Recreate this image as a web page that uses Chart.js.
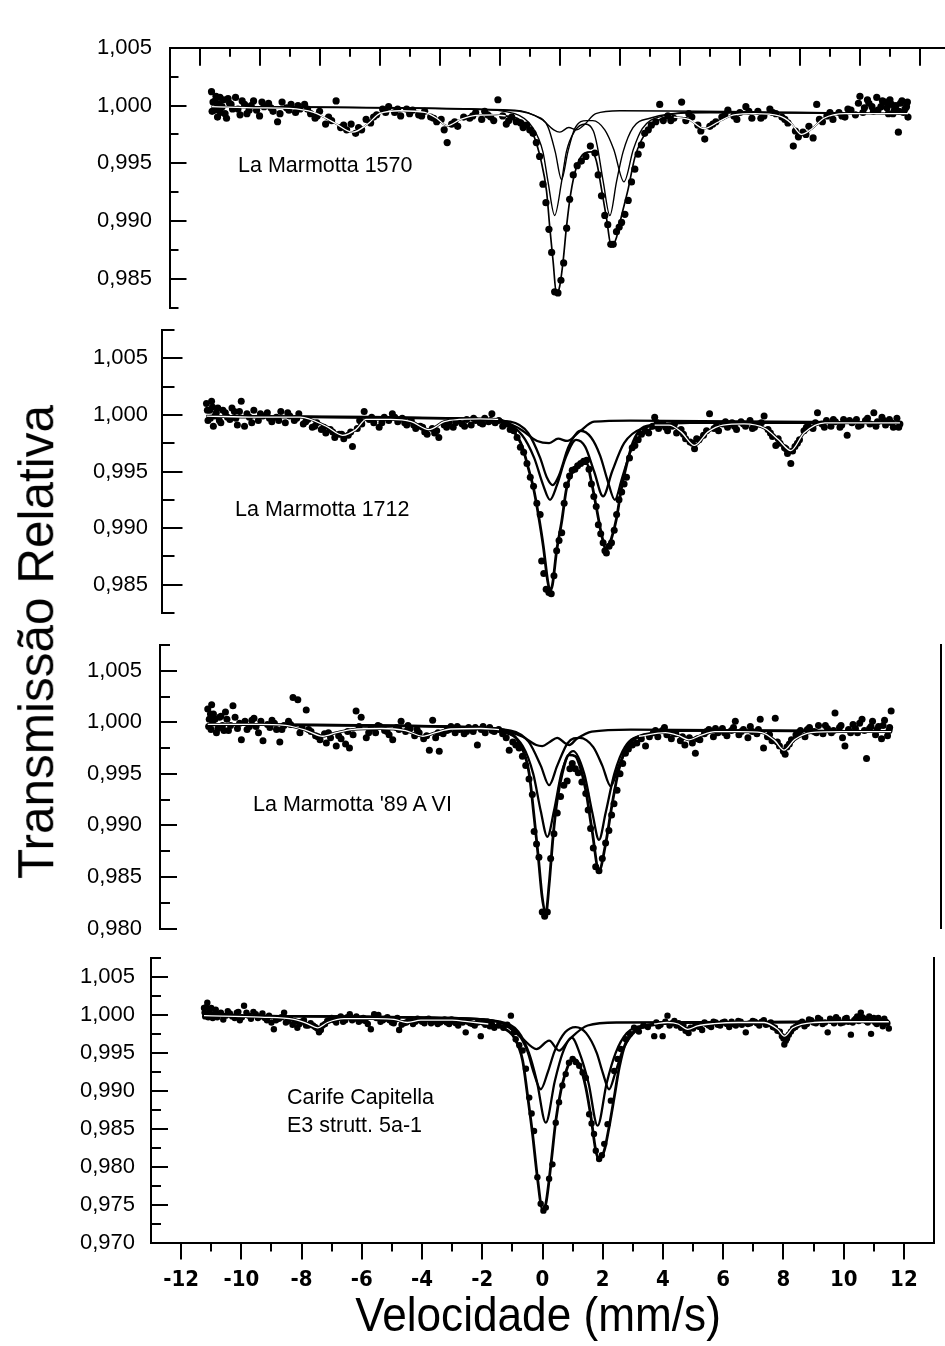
<!DOCTYPE html>
<html><head><meta charset="utf-8">
<script src="https://cdn.jsdelivr.net/npm/chart.js@4.4.1/dist/chart.umd.min.js"></script>
<style>
html,body{margin:0;padding:0;background:#fff;overflow:hidden;width:945px;height:1346px;position:relative;}
canvas{position:absolute;left:0;top:0;}
.lbl{position:absolute;font-family:"Liberation Sans",Arial,sans-serif;font-size:21.5px;line-height:21.5px;color:#000;white-space:nowrap;}
#ytitle{position:absolute;left:35.5px;top:642px;font-family:"Liberation Sans",Arial,sans-serif;font-size:49.5px;line-height:49.5px;white-space:nowrap;transform:translate(-50%,-50%) rotate(-90deg);}
#xtitle{position:absolute;left:538px;top:1315px;font-family:"Liberation Sans",Arial,sans-serif;font-size:48px;line-height:48px;white-space:nowrap;transform:translate(-50%,-50%) scaleX(0.92);}
</style></head><body>
<canvas id="c4" width="945" height="1346"></canvas>
<canvas id="c3" width="945" height="1346"></canvas>
<canvas id="c2" width="945" height="1346"></canvas>
<canvas id="c1" width="960" height="1346"></canvas>
<div class="lbl" style="left:238px;top:155px">La Marmotta 1570</div>
<div class="lbl" style="left:235px;top:498.5px">La Marmotta 1712</div>
<div class="lbl" style="left:253px;top:793.5px">La Marmotta '89 A VI</div>
<div class="lbl" style="left:287px;top:1087px">Carife Capitella</div>
<div class="lbl" style="left:287px;top:1115px">E3 strutt. 5a-1</div>
<div id="ytitle">Transmissão Relativa</div>
<div id="xtitle">Velocidade (mm/s)</div>
<script>
// ---------- tick values ----------
const xTicksMajor = [-12,-10,-8,-6,-4,-2,0,2,4,6,8,10,12];
const xTicksMinor = [-12,-11,-10,-9,-8,-7,-6,-5,-4,-3,-2,-1,0,1,2,3,4,5,6,7,8,9,10,11,12];
const p1YTicks = [0.985,0.990,0.995,1.000,1.005];
const p1YMinor = [0.9825,0.9875,0.9925,0.9975,1.0025];
const p2YTicks = [0.985,0.990,0.995,1.000,1.005];
const p2YMinor = [0.9825,0.9875,0.9925,0.9975,1.0025,1.0075];
const p3YTicks = [0.980,0.985,0.990,0.995,1.000,1.005];
const p3YMinor = [0.9825,0.9875,0.9925,0.9975,1.0025,1.0075];
const p4YTicks = [0.970,0.975,0.980,0.985,0.990,0.995,1.000,1.005];
const p4YMinor = [0.9725,0.9775,0.9825,0.9875,0.9925,0.9975,1.0025,1.0075];

// ---------- Panel 1 : La Marmotta 1570 ----------
const p1Points = [[-11.6,1.0012],[-11.55,1.0003],[-11.5,0.9996],[-11.45,1.0008],[-11.4,0.9990],[-11.35,1.0001],[-11.3,0.9994],[-11.2,1.0005],[-11.1,0.9989],[-11.0,1.0002],[-10.9,0.9997],[-10.8,1.0007],[-10.65,0.9992],[-10.5,1.0001],[-10.35,0.9996],[-10.2,1.0004],[-10.0,0.9991],[-9.85,0.9999],[-9.7,1.0002],[-9.55,0.9995],[-9.4,0.9986],[-9.25,1.0003],[-9.1,0.9998],[-8.95,1.0001],[-8.8,0.9994],[-8.65,0.9997],[-8.5,1.0001],[-8.3,0.9993],[-8.15,0.9989],[-8.0,0.9995],[-7.8,0.9984],[-7.6,0.9987],[-7.45,1.0004],[-7.3,0.9981],[-7.1,0.9979],[-6.95,0.9984],[-6.8,0.9976],[-6.6,0.9979],[-6.45,0.9988],[-6.3,0.9985],[-6.1,0.9992],[-5.9,0.9997],[-5.7,0.9999],[-5.5,0.9994],[-5.3,0.9991],[-5.1,0.9997],[-4.9,0.9996],[-4.7,0.9992],[-4.5,0.9995],[-4.3,0.9990],[-4.1,0.9986],[-3.95,0.9988],[-3.75,0.9968],[-3.6,0.9984],[-3.4,0.9982],[-3.2,0.9990],[-3.0,0.9989],[-2.8,0.9994],[-2.6,0.9988],[-2.4,0.9992],[-2.2,0.9987],[-2.06,1.0005],[-1.9,0.9991],[-1.78,0.9984],[-1.6,0.9990],[-1.45,0.9986],
[-1.3,0.9985],[-1.22,0.9981],[-1.1,0.9983],[-1.0,0.9979],[-0.89,0.9976],[-0.78,0.9968],[-0.67,0.9956],[-0.56,0.9932],[-0.46,0.9916],[-0.36,0.9893],[-0.27,0.9873],[-0.17,0.9839],[-0.06,0.9838],[0.04,0.9849],[0.13,0.9864],[0.23,0.9894],[0.33,0.9919],[0.45,0.9940],[0.58,0.9948],[0.72,0.9952],[0.87,0.9956],[1.02,0.9965],[1.17,0.9959],[1.28,0.9940],[1.39,0.9922],[1.5,0.9905],[1.6,0.9897],[1.7,0.9880],[1.78,0.9880],[1.89,0.9891],[1.98,0.9895],[2.06,0.9899],[2.17,0.9906],[2.28,0.9918],[2.39,0.9934],[2.5,0.9945],[2.61,0.9958],[2.72,0.9966],[2.83,0.9976],[2.95,0.9979],[3.05,0.9983],[3.2,0.9986],[3.33,1.0001],[3.45,0.9987],
[3.6,0.9991],[3.8,0.9989],[4.06,1.0003],[4.2,0.9987],[4.4,0.9990],[4.6,0.9983],[4.83,0.9971],[5.0,0.9982],[5.2,0.9986],[5.4,0.9990],[5.6,0.9996],[5.8,0.9991],[6.0,0.9994],[6.2,0.9999],[6.4,0.9989],[6.6,0.9995],[6.8,0.9991],[7.0,0.9997],[7.2,0.9993],[7.4,0.9990],[7.6,0.9985],[7.78,0.9965],[7.95,0.9973],[8.1,0.9977],[8.3,0.9982],[8.44,0.9972],[8.56,1.0001],[8.75,0.9986],[8.9,0.9991],[9.1,0.9988],[9.3,0.9994],[9.5,0.9990],[9.7,0.9996],[9.85,0.9992],[10.0,1.0008],[10.15,0.9998],[10.3,1.0002],[10.45,0.9995],[10.56,1.0007],[10.7,0.9999],[10.85,1.0003],[10.95,0.9993],[11.05,1.0001],[11.15,0.9996],[11.28,0.9977],[11.35,1.0002],[11.45,0.9994],[11.55,0.9999],[11.6,0.9990]];
const p1PointsB = [[-11.58,0.9995],[-11.48,1.0004],[-11.42,0.9998],[-11.32,1.0007],[-11.25,0.9999],[-11.15,0.9993],[-11.05,1.0006],[-10.95,1.0001],[-10.72,0.9997],[-10.58,1.0004],[-10.42,0.9993],[-10.28,1.0000],[-10.1,0.9996],[-9.92,1.0003],[-9.62,0.9998],[-9.32,0.9993],[-9.02,0.9996],[-8.72,1.0000],[-8.4,0.9997],[-8.08,0.9991],[-7.7,0.9990],[-7.2,0.9983],[-6.7,0.9981],[-6.2,0.9990],[-5.8,0.9994],[-5.4,0.9997],[-5.0,0.9993],[-4.6,0.9991],[-4.2,0.9989],[-3.85,0.9979],[-3.5,0.9986],[-2.9,0.9991],[-2.5,0.9995],[-2.3,0.9990],[-1.7,0.9987],
[3.7,0.9987],[4.3,0.9993],[4.7,0.9978],[5.1,0.9984],[5.5,0.9992],[5.9,0.9988],[6.3,0.9995],[6.7,0.9989],[7.1,0.9994],[7.5,0.9988],[7.85,0.9978],[8.2,0.9975],[8.65,0.9988],[9.0,0.9994],[9.4,0.9991],[9.6,0.9997],[9.95,1.0002],[10.1,0.9994],[10.25,1.0005],[10.4,0.9999],[10.6,0.9996],[10.75,1.0004],[10.9,0.9998],[11.0,1.0005],[11.1,0.9993],[11.2,1.0000],[11.3,0.9995],[11.4,1.0004],[11.5,0.9997],[11.58,1.0003]];
const p1Fit = [[-11.6,0.9999],[-10,0.9998],[-9,0.99975],[-8.2,0.9994],[-7.5,0.9985],[-6.9,0.9977],[-6.4,0.9984],[-6.0,0.9993],[-5.3,0.99955],[-4.5,0.9994],[-4.1,0.9989],[-3.75,0.99825],[-3.3,0.9988],[-2.8,0.99915],[-2.2,0.9992],[-1.8,0.9991],[-1.35,0.9988],[-0.9,0.9976],[-0.62,0.9952],[-0.44,0.9926],[-0.33,0.9894],[-0.22,0.9865],[-0.11,0.9837],[0.0,0.9844],[0.11,0.9865],[0.22,0.9894],[0.36,0.9923],[0.56,0.9947],[0.83,0.9959],[1.06,0.9960],[1.22,0.9952],[1.39,0.9928],[1.56,0.9902],[1.72,0.9878],[1.89,0.9886],[2.06,0.9905],[2.28,0.9928],[2.5,0.9955],[2.72,0.9970],[3.0,0.9981],[3.33,0.9988],[3.8,0.9990],[4.3,0.9988],[4.8,0.9980],[5.3,0.9986],[5.8,0.9992],[6.5,0.9993],[7.3,0.9991],[7.7,0.9985],[8.05,0.9975],[8.4,0.9980],[8.8,0.9989],[9.5,0.9993],[10.5,0.9993],[11.6,0.9993]];
const p1C1 = [[-11.6,0.9999],[-3,0.9997],[-1.5,0.9993],[-0.9,0.9981],[-0.56,0.9960],[-0.39,0.9934],[-0.17,0.9905],[0.06,0.9934],[0.22,0.9960],[0.5,0.9978],[0.85,0.9984],[1.12,0.9978],[1.25,0.9965],[1.45,0.9934],[1.67,0.9905],[1.89,0.9934],[2.11,0.9960],[2.44,0.9981],[3.0,0.9989],[4.5,0.9994],[11.6,0.9993]];
const p1C2 = [[-11.6,0.9999],[-2,0.9996],[-0.8,0.9991],[-0.4,0.9982],[-0.15,0.9960],[0.06,0.9936],[0.27,0.9960],[0.5,0.9980],[0.9,0.9987],[1.1,0.9987],[1.5,0.9979],[1.8,0.9962],[2.14,0.9934],[2.45,0.9962],[2.75,0.9980],[3.3,0.9990],[5,0.9994],[11.6,0.9993]];
const p1C3 = [[-11.6,0.9999],[-1.5,0.9996],[-0.6,0.9988],[-0.2,0.9979],[0.0,0.9977],[0.3,0.9981],[0.55,0.9979],[0.8,0.9983],[1.2,0.9993],[2,0.99955],[11.6,0.9993]];

// ---------- Panel 2 : La Marmotta 1712 ----------
const p2Points = [[-11.13,1.0010],[-11.08,0.9995],[-11.02,1.0004],[-10.96,1.0012],[-10.9,0.9990],[-10.85,0.9999],[-10.75,1.0006],[-10.65,0.9993],[-10.5,1.0002],[-10.35,0.9996],[-10.2,1.0003],[-10.1,0.9991],[-9.97,1.0012],[-9.86,0.9990],[-9.7,0.9998],[-9.55,1.0004],[-9.4,0.9995],[-9.25,0.9999],[-9.1,1.0002],[-8.95,0.9994],[-8.8,0.9998],[-8.65,1.0003],[-8.5,0.9993],[-8.35,0.9999],[-8.2,0.9995],[-8.05,1.0001],[-7.9,0.9992],[-7.75,0.9996],[-7.6,0.9989],[-7.45,0.9993],[-7.3,0.9987],[-7.15,0.9984],[-7.0,0.9987],[-6.85,0.9980],[-6.7,0.9983],[-6.55,0.9979],[-6.4,0.9982],[-6.26,0.9972],[-6.1,0.9988],[-5.95,0.9992],[-5.87,1.0003],[-5.7,0.9996],[-5.55,0.9993],[-5.37,0.9989],[-5.2,0.9998],[-5.05,0.9995],[-4.93,1.0001],[-4.75,0.9994],[-4.6,0.9997],[-4.45,0.9991],[-4.3,0.9995],[-4.15,0.9988],[-4.0,0.9990],[-3.85,0.9985],[-3.77,0.9983],[-3.6,0.9988],[-3.45,0.9986],[-3.38,0.9980],[-3.2,0.9991],[-3.05,0.9993],[-2.9,0.9989],[-2.75,0.9995],[-2.6,0.9992],[-2.45,0.9996],[-2.3,0.9991],[-2.15,0.9995],[-2.0,0.9993],[-1.85,0.9997],[-1.72,0.9994],[-1.61,1.0001],[-1.5,0.9993],
[-1.38,0.9995],[-1.25,0.9990],[-1.12,0.9992],[-1.0,0.9987],[-0.88,0.9986],[-0.77,0.9980],[-0.66,0.99715],[-0.55,0.9967],[-0.44,0.9957],[-0.33,0.9945],[-0.22,0.9937],[-0.11,0.9922],[0.0,0.9912],[0.05,0.9871],[0.12,0.9860],[0.2,0.9846],[0.29,0.9843],[0.37,0.9842],[0.46,0.9858],[0.55,0.9880],[0.63,0.9889],[0.72,0.9896],[0.8,0.9922],[0.88,0.9938],[0.98,0.9946],[1.07,0.9951],[1.16,0.9952],[1.25,0.9955],[1.35,0.9957],[1.45,0.9959],[1.55,0.9960],[1.63,0.9952],[1.71,0.9939],[1.79,0.9928],[1.87,0.9919],[1.94,0.9903],[2.02,0.9895],[2.1,0.9887],[2.16,0.9880],[2.21,0.9878],[2.3,0.9884],[2.38,0.9887],[2.47,0.9898],[2.55,0.9912],[2.63,0.9925],[2.72,0.9932],[2.8,0.9939],[2.88,0.9945],[2.98,0.9962],[3.07,0.9971],[3.16,0.9973],[3.27,0.9978],[3.38,0.9983],[3.5,0.9986],[3.62,0.9984],[3.75,0.9990],[3.82,0.9998],
[3.95,0.9988],[4.1,0.9992],[4.25,0.9986],[4.4,0.9990],[4.55,0.9984],[4.7,0.9987],[4.85,0.9979],[5.0,0.9976],[5.15,0.9970],[5.3,0.9978],[5.45,0.9982],[5.65,1.0001],[5.8,0.9988],[5.95,0.9986],[6.1,0.9992],[6.25,0.9989],[6.4,0.9993],[6.55,0.9987],[6.7,0.9994],[6.85,0.9990],[7.0,0.9995],[7.15,0.9989],[7.3,0.9992],[7.47,0.9999],[7.6,0.9987],[7.75,0.9981],[7.86,0.9973],[8.0,0.9975],[8.15,0.9971],[8.25,0.9966],[8.36,0.9957],[8.5,0.9972],[8.65,0.9978],[8.8,0.9986],[8.95,0.9990],[9.1,0.9988],[9.25,1.0002],[9.4,0.9992],[9.55,0.9995],[9.7,0.9990],[9.85,0.9994],[10.0,0.9989],[10.12,0.9996],[10.24,0.9982],[10.4,0.9993],[10.55,0.9996],[10.7,0.9991],[10.85,0.9995],[11.0,0.9992],[11.13,1.0002],[11.25,0.9994],[11.4,0.9998],[11.52,0.9991],[11.65,0.9996],[11.78,0.9989],[11.9,0.9997],[12.0,0.9992]];
const p2PointsB = [[-11.1,1.0004],[-11.0,0.9997],[-10.93,1.0007],[-10.8,1.0002],[-10.7,0.9995],[-10.58,1.0004],[-10.43,0.9998],[-10.28,1.0006],[-10.15,0.9997],[-10.03,1.0003],[-9.78,1.0001],[-9.62,0.9993],[-9.33,1.0001],[-9.03,0.9997],[-8.72,0.9995],[-8.42,1.0002],[-8.12,0.9997],[-7.82,0.9994],[-7.52,0.9990],[-7.22,0.9989],[-6.92,0.9985],[-6.62,0.9983],[-6.32,0.9985],[-6.02,0.9995],[-5.62,0.9998],[-5.28,0.9993],[-4.85,0.9998],[-4.52,0.9993],[-4.22,0.9991],[-3.92,0.9989],[-3.52,0.9984],[-3.12,0.9989],[-2.82,0.9993],[-2.52,0.9990],[-2.22,0.9997],[-1.92,0.9992],[-1.65,0.9995],
[3.9,0.9993],[4.18,0.9989],[4.48,0.9992],[4.78,0.9983],[5.08,0.9975],[5.22,0.9979],[5.55,0.9986],[5.88,0.9990],[6.18,0.9994],[6.48,0.9990],[6.78,0.9992],[7.08,0.9988],[7.38,0.9993],[7.68,0.9984],[7.94,0.9979],[8.2,0.9970],[8.42,0.9968],[8.58,0.9975],[8.88,0.9989],[9.18,0.9993],[9.48,0.9989],[9.78,0.9996],[10.06,0.9991],[10.32,0.9995],[10.62,0.9990],[10.92,0.9997],[11.2,0.9990],[11.46,0.9995],[11.72,0.9993],[11.96,0.9989]];
const p2Fit = [[-11.13,0.9999],[-9.5,0.9998],[-8.0,0.9998],[-7.14,0.9990],[-6.59,0.9982],[-6.15,0.9987],[-5.8,0.9996],[-5.0,0.9996],[-4.3,0.9994],[-3.71,0.9987],[-3.2,0.9994],[-2.7,0.9996],[-2.0,0.99965],[-1.4,0.9996],[-0.94,0.99875],[-0.61,0.9973],[-0.39,0.99525],[-0.22,0.9935],[-0.06,0.9912],[0.11,0.9883],[0.25,0.98535],[0.33,0.9845],[0.41,0.9850],[0.55,0.9880],[0.72,0.9906],[0.88,0.9935],[1.11,0.9951],[1.33,0.9957],[1.55,0.9957],[1.71,0.9941],[1.88,0.99175],[2.05,0.9894],[2.21,0.9881],[2.38,0.9891],[2.55,0.9909],[2.71,0.9935],[2.88,0.99555],[3.1,0.9976],[3.38,0.9988],[3.82,0.9991],[4.3,0.9991],[4.7,0.9985],[5.15,0.9973],[5.6,0.9985],[6.1,0.9991],[6.8,0.9992],[7.5,0.9988],[7.95,0.9978],[8.36,0.99685],[8.8,0.9984],[9.5,0.9993],[12.0,0.9993]];
const p2C1 = [[-11.13,0.9999],[-3,0.9997],[-1.2,0.9993],[-0.6,0.9982],[-0.2,0.9962],[0.1,0.9938],[0.33,0.9925],[0.56,0.9938],[0.85,0.9962],[1.2,0.9978],[1.5,0.9972],[1.8,0.9950],[2.1,0.9928],[2.4,0.9950],[2.8,0.9975],[3.4,0.9988],[5,0.9993],[12,0.9993]];
const p2C2 = [[-11.13,0.9999],[-3,0.9997],[-1.0,0.9994],[-0.4,0.9984],[0.0,0.9962],[0.22,0.9945],[0.42,0.9938],[0.62,0.9946],[0.95,0.9972],[1.35,0.9986],[1.7,0.9980],[2.0,0.9964],[2.25,0.9942],[2.49,0.9925],[2.73,0.9944],[3.05,0.9970],[3.5,0.9985],[5,0.9993],[12,0.9993]];
const p2C3 = [[-11.13,0.9999],[-1.5,0.9996],[-0.7,0.9988],[-0.1,0.9977],[0.3,0.9975],[0.6,0.9979],[0.9,0.9977],[1.3,0.9985],[1.8,0.9994],[3,0.9995],[12,0.9993]];

// ---------- Panel 3 : La Marmotta '89 A VI ----------
const p3Points = [[-11.09,1.0013],[-11.04,1.0003],[-10.98,0.9993],[-10.96,1.0017],[-10.9,1.0008],[-10.8,0.9990],[-10.7,1.0005],[-10.6,0.9997],[-10.5,1.0010],[-10.4,0.9992],[-10.25,1.0016],[-10.1,0.9994],[-9.97,0.9983],[-9.85,1.0001],[-9.7,0.9996],[-9.55,1.0004],[-9.4,0.9990],[-9.25,0.9982],[-9.1,0.9998],[-8.95,1.0002],[-8.8,0.9993],[-8.69,0.9981],[-8.55,0.9997],[-8.4,1.0001],[-8.25,1.0024],[-8.09,1.0022],[-7.95,0.9995],[-7.81,1.0012],[-7.65,0.9991],[-7.5,0.9987],[-7.35,0.9983],[-7.2,0.9989],[-7.14,0.9980],[-7.0,0.9985],[-6.81,0.9977],[-6.65,0.9984],[-6.5,0.9979],[-6.37,0.9975],[-6.25,0.9988],[-6.15,1.0011],[-5.98,1.0005],[-5.81,0.9985],[-5.65,0.9994],[-5.5,0.9990],[-5.35,0.9996],[-5.2,0.9992],[-5.05,0.9988],[-4.93,0.9983],[-4.8,0.9995],[-4.65,1.0001],[-4.5,0.9991],[-4.35,0.9994],[-4.2,0.9987],[-4.05,0.9990],[-3.9,0.9984],[-3.71,0.9973],[-3.6,1.0002],[-3.5,0.9985],[-3.38,0.9972],[-3.25,0.9989],[-3.12,0.9992],[-2.99,0.9996],[-2.85,0.9990],[-2.7,0.9993],[-2.55,0.9989],[-2.4,0.9995],[-2.25,0.9991],[-2.11,0.9978],[-1.98,0.9993],[-1.85,0.9990],[-1.7,0.9995],[-1.55,0.9991],
[-1.4,0.9993],[-1.27,0.9989],[-1.15,0.9985],[-1.05,0.9973],[-0.93,0.9981],[-0.83,0.9978],[-0.72,0.9975],[-0.61,0.9967],[-0.5,0.9958],[-0.39,0.9945],[-0.28,0.9930],[-0.22,0.9894],[-0.14,0.9882],[-0.06,0.9869],[0.05,0.9816],[0.13,0.9812],[0.22,0.9816],[0.33,0.9868],[0.44,0.9892],[0.55,0.9912],[0.66,0.9928],[0.77,0.9939],[0.88,0.9943],[0.97,0.9955],[1.05,0.9960],[1.15,0.9955],[1.25,0.9951],[1.37,0.9942],[1.5,0.9931],[1.58,0.9915],[1.66,0.9897],[1.75,0.9878],[1.83,0.9860],[1.94,0.9856],[2.05,0.9868],[2.16,0.9883],[2.27,0.9895],[2.36,0.9910],[2.44,0.9921],[2.54,0.9934],[2.64,0.9950],[2.73,0.9960],[2.82,0.9970],[2.92,0.9974],[3.05,0.9978],[3.2,0.9980],[3.35,0.9984],[3.49,0.9977],[3.62,0.9986],
[3.75,0.9990],[3.9,0.9986],[4.05,0.9992],[4.2,0.9988],[4.35,0.9984],[4.5,0.9989],[4.65,0.9982],[4.8,0.9978],[4.95,0.9985],[5.15,0.9970],[5.3,0.9983],[5.45,0.9989],[5.6,0.9993],[5.75,0.9986],[5.9,0.9990],[6.05,0.9994],[6.2,0.9987],[6.35,0.9992],[6.48,1.0001],[6.6,0.9988],[6.75,0.9993],[6.9,0.9985],[7.05,0.9991],[7.2,0.9989],[7.31,1.0003],[7.42,0.9975],[7.55,0.9986],[7.7,0.9982],[7.81,1.0004],[7.95,0.9977],[8.08,0.9972],[8.2,0.9976],[8.35,0.9983],[8.5,0.9988],[8.65,0.9992],[8.8,0.9986],[8.95,0.9995],[9.1,0.9991],[9.25,0.9997],[9.4,0.9989],[9.55,0.9994],[9.68,0.9990],[9.8,1.0009],[9.95,0.9995],[10.05,0.9985],[10.13,0.9977],[10.25,0.9993],[10.4,0.9998],[10.55,0.9990],[10.7,1.0003],[10.85,0.9965],[10.95,0.9994],[11.05,1.0001],[11.15,0.9988],[11.25,0.9996],[11.35,0.9984],[11.45,1.0002],[11.55,0.9987],[11.62,0.9995],[11.67,1.0011]];
const p3PointsB = [[-11.06,0.9996],[-11.0,1.0008],[-10.93,0.9999],[-10.85,1.0003],[-10.75,0.9994],[-10.65,1.0006],[-10.55,0.9992],[-10.45,1.0003],[-10.33,0.9997],[-10.18,1.0005],[-10.03,0.9999],[-9.78,0.9993],[-9.62,1.0002],[-9.48,0.9996],[-9.32,1.0001],[-9.02,0.9995],[-8.87,0.9999],[-8.62,0.9993],[-8.33,0.9998],[-8.02,0.9990],[-7.73,0.9993],[-7.42,0.9986],[-7.07,0.9990],[-6.73,0.9987],[-6.43,0.9991],[-6.05,0.9996],[-5.73,0.9990],[-5.42,0.9997],[-5.12,0.9991],[-4.72,0.9993],[-4.42,0.9997],[-4.12,0.9993],[-3.8,0.9987],[-3.42,0.9990],[-3.05,0.9993],[-2.78,0.9996],[-2.47,0.9991],[-2.18,0.9995],[-1.92,0.9996],[-1.62,0.9992],
[3.82,0.9992],[4.12,0.9995],[4.42,0.9990],[4.72,0.9986],[5.05,0.9980],[5.22,0.9984],[5.52,0.9991],[5.82,0.9994],[6.12,0.9990],[6.42,0.9995],[6.68,0.9991],[6.98,0.9996],[7.25,0.9993],[7.62,0.9988],[7.88,0.9981],[8.14,0.9969],[8.28,0.9979],[8.58,0.9990],[8.88,0.9993],[9.18,0.9990],[9.48,0.9997],[9.75,0.9992],[10.0,0.9997],[10.32,0.9990],[10.48,0.9994],[10.62,0.9999],[10.78,0.9992],[11.0,0.9996],[11.2,0.9993],[11.4,0.9997],[11.6,0.9992]];
const p3Fit = [[-11.09,0.9998],[-9.5,0.9998],[-8.5,0.9997],[-7.8,0.9992],[-7.26,0.99865],[-6.8,0.9990],[-6.3,0.9993],[-5.3,0.9994],[-4.5,0.9992],[-3.93,0.99865],[-3.5,0.9990],[-3.0,0.99935],[-2.0,0.9994],[-1.39,0.9993],[-0.72,0.9980],[-0.39,0.9951],[-0.22,0.9908],[-0.08,0.9869],[0.05,0.9830],[0.17,0.9815],[0.28,0.9843],[0.41,0.9889],[0.55,0.9925],[0.72,0.9951],[0.94,0.99685],[1.16,0.9967],[1.33,0.9955],[1.5,0.9934],[1.71,0.9895],[1.94,0.9856],[2.16,0.9882],[2.38,0.9921],[2.6,0.9954],[2.88,0.99765],[3.27,0.99865],[4.15,0.9990],[4.6,0.9987],[4.93,0.9983],[5.3,0.9987],[5.8,0.9991],[6.6,0.9991],[7.36,0.9990],[7.8,0.9982],[8.1,0.9973],[8.45,0.9983],[9.0,0.9990],[10,0.9991],[11.67,0.9991]];
const p3C1 = [[-11.09,0.9998],[-3,0.9996],[-1.3,0.9991],[-0.6,0.9977],[-0.25,0.9950],[0.0,0.9914],[0.22,0.9889],[0.44,0.9914],[0.7,0.9952],[1.08,0.9972],[1.45,0.9950],[1.72,0.9912],[1.94,0.9886],[2.16,0.9912],[2.45,0.9950],[2.8,0.9976],[3.5,0.9988],[5,0.9992],[11.67,0.9991]];
const p3C2 = [[-11.09,0.9998],[-3,0.9996],[-1.0,0.9992],[-0.4,0.9981],[0.0,0.9958],[0.28,0.9939],[0.55,0.9958],[0.9,0.9980],[1.3,0.9985],[1.75,0.9976],[2.05,0.9958],[2.33,0.9938],[2.6,0.9958],[3.0,0.9980],[3.8,0.9989],[5,0.9992],[11.67,0.9991]];
const p3C3 = [[-11.09,0.9998],[-1.5,0.9994],[-0.6,0.9986],[-0.15,0.9978],[0.05,0.9977],[0.3,0.9981],[0.55,0.9985],[0.8,0.9980],[0.95,0.9978],[1.2,0.9984],[1.7,0.9991],[3,0.9993],[11.67,0.9991]];

// ---------- Panel 4 : Carife Capitella E3 strutt. 5a-1 ----------
const p4Points = [[-11.24,1.0009],[-11.2,0.9998],[-11.13,1.0016],[-11.05,1.0004],[-10.95,0.9996],[-10.85,1.0007],[-10.75,1.0001],[-10.6,0.9994],[-10.45,1.0005],[-10.3,0.9998],[-10.15,1.0003],[-10.05,0.9993],[-9.91,1.0012],[-9.75,0.9999],[-9.6,1.0004],[-9.45,0.9996],[-9.3,1.0002],[-9.15,0.9993],[-9.0,0.9990],[-8.92,0.9981],[-8.75,0.9995],[-8.58,1.0003],[-8.45,0.9992],[-8.3,0.9987],[-8.14,0.9983],[-8.0,0.9991],[-7.85,0.9986],[-7.7,0.9989],[-7.55,0.9984],[-7.42,0.9977],[-7.3,0.9986],[-7.15,0.9992],[-7.0,0.9996],[-6.85,0.9990],[-6.7,0.9998],[-6.55,0.9993],[-6.4,1.0001],[-6.25,0.9995],[-6.1,0.9991],[-5.95,0.9996],[-5.8,0.9988],[-5.7,0.9981],[-5.59,1.0001],[-5.45,1.0000],[-5.3,0.9993],[-5.15,0.9997],[-5.0,0.9990],[-4.88,0.9994],[-4.76,0.9980],[-4.6,0.9989],[-4.45,0.9992],[-4.3,0.9988],[-4.15,0.9995],[-4.0,0.9991],[-3.85,0.9994],[-3.7,0.9989],[-3.55,0.9993],[-3.4,0.9990],[-3.25,0.9994],[-3.1,0.9988],[-2.95,0.9991],[-2.8,0.9986],[-2.65,0.9990],[-2.55,0.9977],[-2.4,0.9989],[-2.25,0.9986],[-2.15,0.9990],[-2.05,0.9972],[-1.9,0.9987],[-1.75,0.9985],[-1.6,0.9983],
[-1.45,0.9986],[-1.3,0.9983],[-1.17,0.9987],[-1.05,0.9999],[-0.95,0.9977],[-0.89,0.9968],[-0.77,0.9960],[-0.66,0.9953],[-0.55,0.9929],[-0.44,0.9891],[-0.36,0.9870],[-0.28,0.9847],[-0.17,0.9786],[-0.06,0.9751],[0.03,0.9742],[0.11,0.9746],[0.22,0.9784],[0.33,0.9803],[0.44,0.9858],[0.55,0.9885],[0.66,0.9907],[0.77,0.9922],[0.88,0.9937],[1.0,0.9942],[1.1,0.9938],[1.22,0.9933],[1.33,0.9924],[1.44,0.9917],[1.55,0.9869],[1.63,0.9857],[1.71,0.9843],[1.77,0.9821],[1.88,0.9810],[1.97,0.9815],[2.05,0.9830],[2.16,0.9856],[2.27,0.9887],[2.38,0.9926],[2.49,0.9942],[2.6,0.9955],[2.77,0.9968],[2.9,0.9975],[3.04,0.9983],[3.2,0.9978],[3.35,0.9986],[3.5,0.9984],[3.71,0.9972],
[3.85,0.9985],[3.99,0.9972],[4.15,0.9999],[4.3,0.9989],[4.45,0.9986],[4.6,0.9983],[4.75,0.9979],[4.85,0.9976],[5.0,0.9982],[5.15,0.9985],[5.3,0.9980],[5.45,0.9988],[5.6,0.9984],[5.75,0.9990],[5.9,0.9986],[6.05,0.9991],[6.2,0.9984],[6.35,0.9988],[6.5,0.9992],[6.62,0.9987],[6.75,0.9977],[6.9,0.9989],[7.05,0.9991],[7.2,0.9986],[7.35,0.9993],[7.5,0.9988],[7.65,0.9984],[7.8,0.9979],[7.95,0.9972],[8.03,0.9961],[8.12,0.9969],[8.25,0.9978],[8.4,0.9984],[8.55,0.9989],[8.7,0.9985],[8.85,0.9994],[9.0,0.9990],[9.15,0.9996],[9.3,0.9988],[9.47,0.9977],[9.6,0.9992],[9.75,0.9997],[9.9,0.9989],[10.05,0.9995],[10.15,0.9991],[10.24,0.9974],[10.35,0.9993],[10.45,0.9998],[10.57,1.0003],[10.7,0.9995],[10.8,0.9990],[10.91,0.9975],[11.0,0.9996],[11.1,0.9988],[11.2,0.9993],[11.3,0.9985],[11.4,0.9991],[11.5,0.9982]];
const p4PointsB = [[-11.22,1.0003],[-11.17,1.0010],[-11.1,0.9997],[-11.0,1.0009],[-10.9,1.0001],[-10.8,0.9997],[-10.68,1.0003],[-10.52,0.9999],[-10.38,1.0002],[-10.22,0.9996],[-10.1,1.0004],[-9.98,0.9997],[-9.83,1.0003],[-9.68,0.9995],[-9.52,1.0001],[-9.38,0.9998],[-9.22,0.9996],[-9.08,0.9999],[-8.85,0.9993],[-8.67,0.9997],[-8.52,0.9990],[-8.38,0.9995],[-8.22,0.9991],[-8.07,0.9988],[-7.92,0.9993],[-7.78,0.9986],[-7.62,0.9986],[-7.48,0.9982],[-7.36,0.9980],[-7.22,0.9988],[-7.08,0.9993],[-6.92,0.9993],[-6.78,0.9996],[-6.62,0.9991],[-6.48,0.9997],[-6.32,0.9993],[-6.18,0.9998],[-6.02,0.9993],[-5.88,0.9992],[-5.52,0.9996],[-5.38,0.9991],[-5.22,0.9995],[-5.08,0.9993],[-4.94,0.9989],[-4.82,0.9996],[-4.68,0.9987],[-4.52,0.9990],[-4.38,0.9994],[-4.22,0.9991],[-4.08,0.9993],[-3.92,0.9989],[-3.78,0.9995],[-3.62,0.9991],[-3.48,0.9988],[-3.32,0.9992],[-3.18,0.9990],[-3.02,0.9994],[-2.88,0.9989],[-2.72,0.9992],[-2.48,0.9991],[-2.32,0.9988],[-1.98,0.9990],[-1.82,0.9991],[-1.68,0.9988],
[3.78,0.9990],[3.92,0.9987],[4.08,0.9991],[4.22,0.9986],[4.38,0.9992],[4.52,0.9989],[4.68,0.9986],[4.8,0.9980],[4.92,0.9983],[5.08,0.9987],[5.22,0.9984],[5.38,0.9990],[5.52,0.9986],[5.68,0.9991],[5.82,0.9987],[5.98,0.9990],[6.12,0.9988],[6.28,0.9991],[6.42,0.9986],[6.58,0.9991],[6.82,0.9988],[6.98,0.9992],[7.12,0.9989],[7.28,0.9991],[7.42,0.9987],[7.58,0.9990],[7.72,0.9983],[7.88,0.9978],[8.0,0.9969],[8.08,0.9966],[8.18,0.9974],[8.32,0.9982],[8.48,0.9987],[8.62,0.9991],[8.78,0.9988],[8.92,0.9993],[9.08,0.9989],[9.22,0.9994],[9.38,0.9990],[9.55,0.9995],[9.68,0.9989],[9.82,0.9994],[9.98,0.9990],[10.1,0.9996],[10.3,0.9990],[10.4,0.9995],[10.5,0.9992],[10.62,0.9997],[10.75,0.9992],[10.85,0.9998],[10.95,0.9993],[11.05,0.9990],[11.15,0.9996],[11.25,0.9990],[11.35,0.9995],[11.45,0.9989]];
const p4Fit = [[-11.24,0.9999],[-9.36,0.9997],[-8.25,0.9994],[-7.81,0.99885],[-7.47,0.9983],[-7.14,0.9990],[-6.59,0.9995],[-5.5,0.9995],[-4.93,0.9994],[-4.49,0.9990],[-4.04,0.9993],[-3.0,0.9993],[-2.5,0.9991],[-1.8,0.9988],[-1.39,0.9984],[-0.94,0.9970],[-0.66,0.9940],[-0.5,0.9895],[-0.33,0.9843],[-0.17,0.9786],[0.0,0.9744],[0.11,0.9751],[0.28,0.9803],[0.44,0.9860],[0.61,0.9900],[0.83,0.9931],[1.0,0.9942],[1.22,0.9935],[1.44,0.9904],[1.61,0.9865],[1.77,0.9821],[1.88,0.9810],[2.05,0.9821],[2.21,0.9852],[2.38,0.9891],[2.55,0.9931],[2.77,0.9964],[3.15,0.9981],[3.71,0.9988],[4.15,0.9990],[4.5,0.9988],[4.82,0.9981],[5.15,0.99855],[5.7,0.99885],[6.5,0.9990],[7.36,0.9990],[7.81,0.9981],[8.03,0.9972],[8.31,0.9983],[9.02,0.9990],[10,0.9991],[11.5,0.9991]];
const p4C1 = [[-11.24,0.9999],[-3,0.9996],[-1.4,0.9991],[-0.8,0.9978],[-0.45,0.9950],[-0.19,0.9913],[0.11,0.9858],[0.41,0.9913],[0.67,0.9950],[0.97,0.9970],[1.23,0.9950],[1.53,0.9910],[1.83,0.9854],[2.13,0.9910],[2.43,0.9950],[2.8,0.9976],[3.4,0.9986],[5,0.9990],[11.5,0.9991]];
const p4C2 = [[-11.24,0.9999],[-3,0.9996],[-1.4,0.9990],[-0.85,0.9977],[-0.5,0.9952],[-0.3,0.9925],[-0.06,0.9902],[0.18,0.9925],[0.4,0.9952],[0.75,0.9977],[1.1,0.9984],[1.45,0.9976],[1.8,0.9950],[2.0,0.9924],[2.21,0.9902],[2.42,0.9924],[2.65,0.9952],[3.0,0.9975],[3.6,0.9986],[5,0.9990],[11.5,0.9991]];
const p4C3 = [[-11.24,0.9999],[-2,0.9994],[-1.3,0.9988],[-0.7,0.9970],[-0.2,0.9955],[0.22,0.9966],[0.55,0.9953],[0.9,0.9968],[1.5,0.9986],[2.5,0.9990],[11.5,0.9991]];

// ---------- layout / style (not data) ----------
const PAGE_H = 1346;
const panels = [
  {id:'c1', cw:960, area:{l:169.5,t:24.5,r:950,b:308}, xMin:-13, xMax:13, yMin:0.9825, yMax:1.005,
   yTicks:p1YTicks, yMinor:p1YMinor, yMaj:17, yMin2:9, yGap:17.5,
   xAxis:{pos:'top', major:-18, minor:-9, labels:false}, right:false,
   points:p1Points.concat(p1PointsB), fit:p1Fit, comps:[p1C1,p1C2,p1C3], wing:[-1.8,3.8], dot:3.6, fitW:1.7, compW:1.4},
  {id:'c2', cw:945, area:{l:161.5,t:330,r:944,b:613}, xMin:-12.63, xMax:13.37, yMin:0.9825, yMax:1.0075,
   yTicks:p2YTicks, yMinor:p2YMinor, yMaj:21, yMin2:13, yGap:13.5,
   xAxis:null, right:false,
   points:p2Points.concat(p2PointsB), fit:p2Fit, comps:[p2C1,p2C2,p2C3], wing:[-1.4,3.82], dot:3.5, fitW:2.8, compW:2.3},
  {id:'c3', cw:945, area:{l:160,t:645,r:943,b:928.5}, xMin:-12.68, xMax:13.33, yMin:0.980, yMax:1.0075,
   yTicks:p3YTicks, yMinor:p3YMinor, yMaj:17, yMin2:10, yGap:18,
   xAxis:null, right:true,
   points:p3Points.concat(p3PointsB), fit:p3Fit, comps:[p3C1,p3C2,p3C3], wing:[-1.39,3.27], dot:3.5, fitW:2.8, compW:2.3},
  {id:'c4', cw:945, area:{l:151,t:958,r:934,b:1242.5}, xMin:-13, xMax:13, yMin:0.970, yMax:1.0075,
   yTicks:p4YTicks, yMinor:p4YMinor, yMaj:17, yMin2:10, yGap:16,
   xAxis:{pos:'bottom', major:17, minor:9, labels:true}, right:true,
   points:p4Points.concat(p4PointsB), fit:p4Fit, comps:[p4C1,p4C2,p4C3], wing:[-1.8,3.71], dot:3.2, fitW:2.8, compW:2.3}
];

const toXY = a => a.map(([x,y]) => ({x, y}));
const fmtY = v => v.toFixed(3).replace('.', ',');
const tickFont = {family:'"Liberation Sans", Arial, sans-serif', size:22};
const xTickFont = {family:'"Liberation Sans Narrow", "Arial Narrow", "DejaVu Sans Condensed", "Liberation Sans", sans-serif', size:22, weight:'bold'};

function build(p) {
  // zero-size axis boxes so chartArea is set by layout padding; labels are not clipped to the box
  const zeroH = s => { s.height = 0; s._computeLabelArea = () => undefined; };
  const zeroW = s => { s.width = 0; s._computeLabelArea = () => undefined; };
  const lineDs = (data, w, color) => ({data, borderColor:color, borderWidth:w, pointRadius:0, fill:false,
    cubicInterpolationMode:'monotone', spanGaps:false, xAxisID:'x', yAxisID:'y'});
  const datasets = [
    lineDs(p.fit.map(([x,y]) => ({x, y:(x <= p.wing[0] || x >= p.wing[1]) ? y : null})), 1.3, '#ffffff'),
    {data:toXY(p.points), showLine:false, pointRadius:p.dot, pointBackgroundColor:'#000', pointBorderWidth:0,
     borderColor:'#000', xAxisID:'x', yAxisID:'y'},
    lineDs(toXY(p.fit), p.fitW, '#000'),
    ...p.comps.map(c => lineDs(toXY(c), p.compW, '#000'))
  ];
  const xa = p.xAxis;
  const scales = {
    x: {type:'linear', min:p.xMin, max:p.xMax, display:!!xa, position: xa ? xa.pos : 'bottom',
        afterFit: zeroH, afterBuildTicks: s => { s.ticks = xTicksMajor.map(v => ({value:v})); },
        grid:{display:true, drawOnChartArea:false, drawTicks:true, tickLength: xa ? xa.major : 0, lineWidth:2, color:'#000'},
        border:{display:true, width:2, color:'#000'},
        ticks:{display: !!(xa && xa.labels), autoSkip:false, maxRotation:0, minRotation:0, padding:8, color:'#000',
               font:xTickFont, callback: v => String(v)}},
    xMinor: {type:'linear', axis:'x', min:p.xMin, max:p.xMax, display:!!xa, position: xa ? xa.pos : 'bottom',
        afterFit: zeroH, afterBuildTicks: s => { s.ticks = xTicksMinor.map(v => ({value:v})); },
        grid:{display:true, drawOnChartArea:false, drawTicks:true, tickLength: xa ? xa.minor : 0, lineWidth:2, color:'#000'},
        border:{display:false}, ticks:{display:false}},
    y: {type:'linear', min:p.yMin, max:p.yMax, position:'left', afterFit: zeroW,
        afterBuildTicks: s => { s.ticks = p.yTicks.map(v => ({value:v})); },
        grid:{display:true, drawOnChartArea:false, drawTicks:true, tickLength:-p.yMaj, lineWidth:2, color:'#000'},
        border:{display:true, width:2, color:'#000'},
        ticks:{autoSkip:false, padding:p.yMaj + p.yGap, color:'#000', font:tickFont, callback: v => fmtY(v)}},
    yMinor: {type:'linear', axis:'y', min:p.yMin, max:p.yMax, position:'left', afterFit: zeroW,
        afterBuildTicks: s => { s.ticks = p.yMinor.map(v => ({value:v})); },
        grid:{display:true, drawOnChartArea:false, drawTicks:true, tickLength:-p.yMin2, lineWidth:2, color:'#000'},
        border:{display:false}, ticks:{display:false}},
    yR: {type:'linear', axis:'y', min:p.yMin, max:p.yMax, position:'right', display:p.right, afterFit: zeroW,
        grid:{display:false, drawOnChartArea:false, drawTicks:false},
        border:{display:true, width:2, color:'#000'}, ticks:{display:false}}
  };
  new Chart(document.getElementById(p.id), {
    type:'line',
    data:{datasets},
    options:{
      responsive:false, animation:false, events:[],
      layout:{padding:{left:p.area.l, top:p.area.t, right:p.cw - p.area.r, bottom:PAGE_H - p.area.b}},
      plugins:{legend:{display:false}, tooltip:{enabled:false}, title:{display:false}},
      scales
    }
  });
}
panels.forEach(build);
</script>
</body></html>
